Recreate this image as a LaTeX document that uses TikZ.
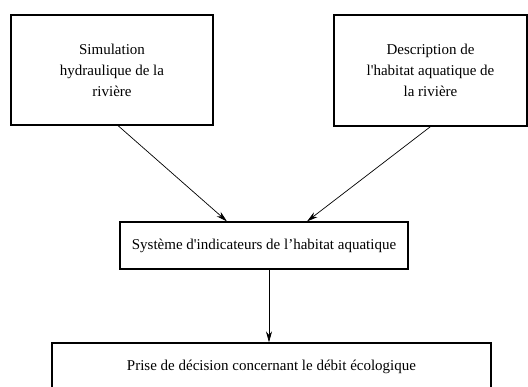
\documentclass[tikz,border=0pt]{standalone}
\usepackage{fontspec}
\setmainfont{Liberation Serif}
\usetikzlibrary{arrows.meta}

\tikzset{
  blockbox/.style={draw=black, line width=1.2pt, align=center, inner sep=2pt,
    font=\fontsize{15}{21}\selectfont},
  flowarrow/.style={draw=black, line width=0.7pt, -{Stealth[length=11pt,width=6pt]}}
}

\begin{document}
\begin{tikzpicture}[x=1pt,y=1pt,yscale=-1]
\clip (0,0) rectangle (528,387);

% Boxes
\node [blockbox, minimum width=202pt, minimum height=110pt] (sim) at (112,70) {Simulation\\hydraulique de la\\rivière};
\node [blockbox, minimum width=193pt, minimum height=111pt] (desc) at (430.5,70.5) {Description de\\l\textquotesingle habitat aquatique de\\la rivière};
\node [blockbox, minimum width=288pt, minimum height=47pt] (ind) at (264,245.5) {Système d\textquotesingle indicateurs de l’habitat aquatique};
\node [blockbox, minimum width=439pt, minimum height=48pt] (dec) at (271.5,367) {Prise de décision concernant le débit écologique};

% Connectors
\draw [flowarrow] ([xshift=6pt]sim.south) -- ([xshift=-37pt]ind.north);
\draw [flowarrow] (desc.south) -- ([xshift=43pt]ind.north);
\draw [flowarrow] ([xshift=5pt]ind.south) -- ([xshift=5pt]ind.south |- dec.north);

\end{tikzpicture}
\end{document}
